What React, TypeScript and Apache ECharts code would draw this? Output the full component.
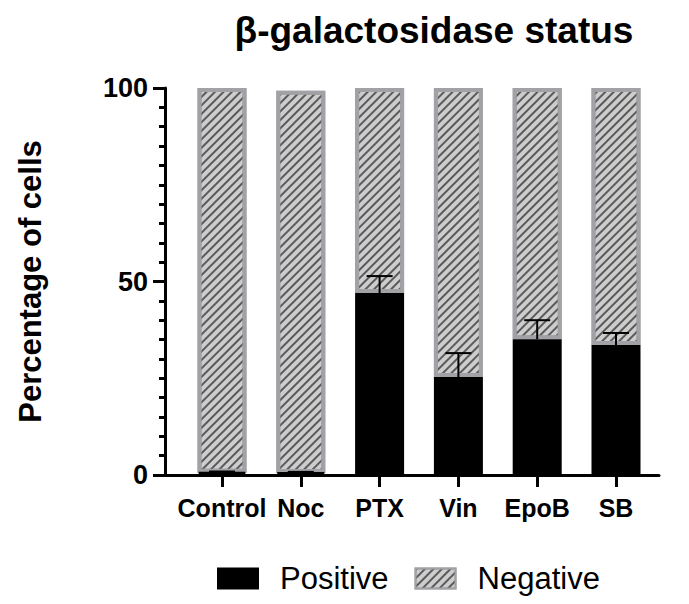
import React, { useEffect, useRef } from "react";
import * as echarts from "echarts";

// Treatment groups on the x axis
const categories = ["Control", "Noc", "PTX", "Vin", "EpoB", "SB"];
// Percentage of β-gal positive cells (mean) and its error (SD, drawn upward)
const positive = [0.6, 0.5, 47.0, 25.3, 35.1, 33.6];
const positiveErr = [0.3, 0.3, 4.4, 6.2, 4.9, 3.1];
// Percentage of β-gal negative cells, stacked on top
const negative = [99.4, 98.8, 53.0, 74.7, 64.9, 66.4];
// Y axis tick values
const yTicks = [0, 50, 100];

const FONT = "'Liberation Sans', Arial, Helvetica, sans-serif";

export default function App() {
  const ref = useRef<HTMLDivElement>(null);

  useEffect(() => {
    if (!ref.current) return;
    const chart = echarts.init(ref.current, undefined, { renderer: "svg" });

    const hatch = {
      symbol: "rect",
      symbolSize: 1,
      dashArrayX: [1, 0],
      dashArrayY: [1.4, 3.8],
      rotation: -Math.PI / 4,
      color: "#5a5a5a",
    };

    const errData = categories.map((_, i) => [i, positive[i], positiveErr[i]]);

    chart.setOption({
      animation: false,
      backgroundColor: "#ffffff",
      title: {
        text: "β-galactosidase status",
        left: 429,
        top: 7,
        textAlign: "center",
        textStyle: { fontFamily: FONT, fontWeight: "bold", fontSize: 37, color: "#000" },
      },
      legend: {
        data: ["Positive", "Negative"],
        left: 217,
        top: 563,
        padding: 0,
        icon: "rect",
        itemWidth: 40,
        itemHeight: 20,
        itemGap: 26,
        textStyle: {
          fontFamily: FONT,
          fontSize: 31,
          color: "#000",
          padding: [0, 0, 0, 17],
        },
      },
      grid: [
        { left: 182.6, right: 33.6, top: 88, bottom: 129 },
        { left: 163.5, right: 30, top: 88, bottom: 129 },
      ],
      xAxis: [
        {
          type: "category",
          gridIndex: 0,
          data: categories,
          axisLine: { show: false },
          axisTick: {
            show: true,
            alignWithLabel: true,
            length: 12,
            lineStyle: { color: "#000", width: 3 },
          },
          axisLabel: {
            interval: 0,
            hideOverlap: false,
            margin: 20,
            fontFamily: FONT,
            fontWeight: "bold",
            fontSize: 25,
            color: "#000",
          },
        },
        {
          type: "value",
          gridIndex: 1,
          min: 0,
          max: 1,
          axisLine: { show: true, lineStyle: { color: "#000", width: 3 } },
          axisTick: { show: false },
          axisLabel: { show: false },
          splitLine: { show: false },
        },
      ],
      yAxis: [
        {
          type: "value",
          gridIndex: 0,
          min: yTicks[0],
          max: yTicks[yTicks.length - 1],
          interval: yTicks[1] - yTicks[0],
          offset: 182.6 - 165,
          name: "Percentage of cells",
          nameLocation: "middle",
          nameGap: 119,
          nameTextStyle: { fontFamily: FONT, fontWeight: "bold", fontSize: 31, color: "#000" },
          axisLine: { show: true, lineStyle: { color: "#000", width: 3 } },
          axisTick: { show: true, length: 12, lineStyle: { color: "#000", width: 3 } },
          minorTick: { show: true, splitNumber: 10, length: 6, lineStyle: { color: "#000", width: 3 } },
          splitLine: { show: false },
          axisLabel: {
            margin: 17,
            fontFamily: FONT,
            fontWeight: "bold",
            fontSize: 27,
            color: "#000",
          },
        },
        { type: "value", gridIndex: 1, show: false, min: 0, max: 1 },
      ],
      series: [
        {
          name: "Positive",
          type: "bar",
          stack: "cells",
          xAxisIndex: 0,
          yAxisIndex: 0,
          barWidth: 49,
          z: 3,
          itemStyle: { color: "#000000", borderColor: "#000000", borderWidth: 4 },
          data: positive,
        },
        {
          name: "Negative",
          type: "bar",
          stack: "cells",
          xAxisIndex: 0,
          yAxisIndex: 0,
          barWidth: 49,
          z: 2,
          itemStyle: {
            color: "#cdcdcd",
            borderColor: "#a2a2a6",
            borderWidth: 4,
            decal: hatch,
          },
          data: negative,
        },
        {
          name: "PositiveError",
          type: "custom",
          xAxisIndex: 0,
          yAxisIndex: 0,
          z: 4,
          encode: { x: 0, y: 1 },
          data: errData,
          renderItem: (params: any, api: any) => {
            const idx = api.value(0);
            const v = api.value(1);
            const e = api.value(2);
            const base = api.coord([idx, v]);
            const top = api.coord([idx, v + e]);
            const half = 13;
            const style = { stroke: "#000", lineWidth: 2 };
            return {
              type: "group",
              children: [
                { type: "line", shape: { x1: base[0], y1: base[1], x2: top[0], y2: top[1] }, style },
                { type: "line", shape: { x1: top[0] - half, y1: top[1], x2: top[0] + half, y2: top[1] }, style },
              ],
            };
          },
        },
      ],
    });

    return () => chart.dispose();
  }, []);

  return (
    <div
      ref={ref}
      style={{ position: "fixed", left: 0, top: 0, width: 689, height: 604, background: "#fff" }}
    />
  );
}
